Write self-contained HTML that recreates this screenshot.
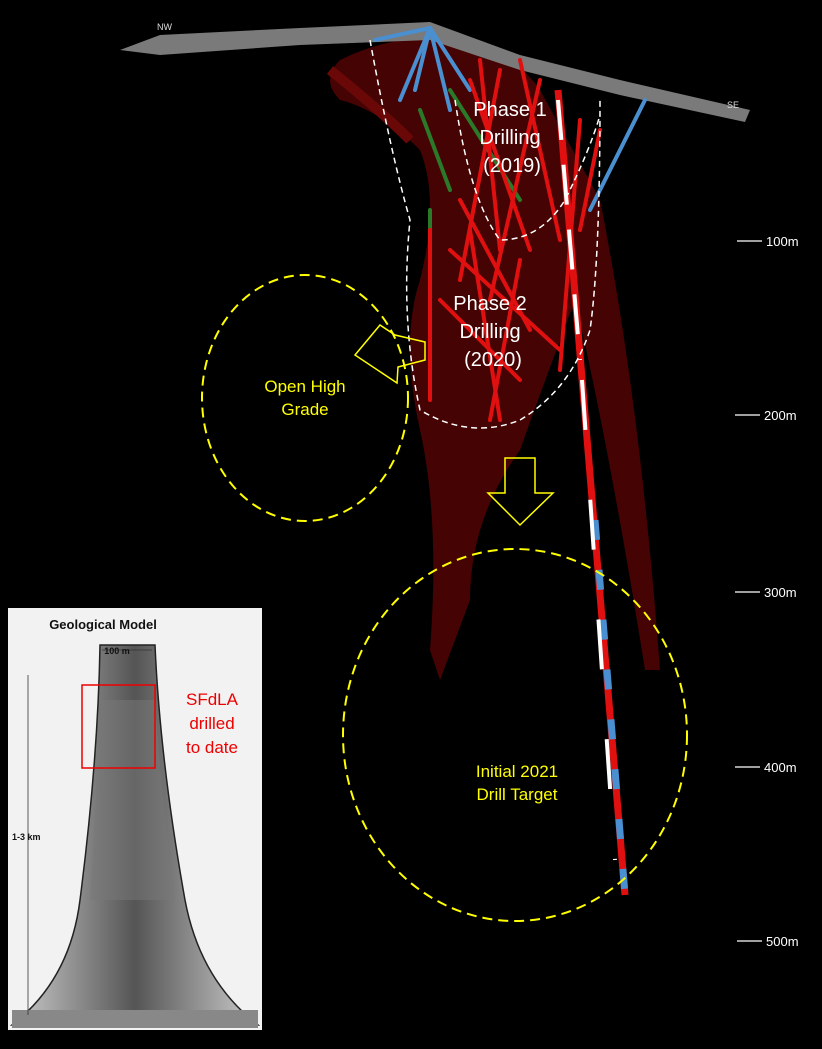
<!DOCTYPE html>
<html><head><meta charset="utf-8"><style>
body{margin:0;background:#000;width:822px;height:1044px;overflow:hidden;font-family:"Liberation Sans",sans-serif}
</style></head><body>
<svg width="822" height="1044" viewBox="0 0 822 1044" xmlns="http://www.w3.org/2000/svg">
<rect width="822" height="1044" fill="#000"/>
<!-- dark red body -->
<g fill="#4a0303" opacity="0.95">
<path d="M340,60 Q400,30 470,40 Q520,60 540,90 L600,200 Q640,400 660,670 L645,670 Q610,450 575,300 Q545,380 520,450 Q470,520 470,600 L440,680 L430,650 Q440,520 420,430 Q400,340 420,280 Q440,200 420,150 Q380,110 340,100 Q320,80 340,60Z"/>
</g>
<path d="M330,70 Q380,110 410,140" stroke="#6a0808" stroke-width="10" fill="none"/>
<!-- surface -->
<path d="M120,50 L160,35 L300,28 L430,22 L520,55 L620,80 L750,110 L745,122 L620,95 L520,70 L430,40 L300,45 L160,55 Z" fill="#7a7a7a"/>
<text x="157" y="30" fill="#ddd" font-size="9">NW</text>
<text x="727" y="108" fill="#ddd" font-size="9">SE</text>
<!-- drill holes -->
<g stroke-width="4" stroke-linecap="round" fill="none">
<path d="M430,28 L400,100" stroke="#4a8fd0"/>
<path d="M430,28 L375,40" stroke="#4a8fd0"/>
<path d="M430,28 L450,110" stroke="#4a8fd0"/>
<path d="M430,28 L470,90" stroke="#4a8fd0"/>
<path d="M430,28 L415,90" stroke="#4a8fd0"/>
<path d="M645,100 L590,210" stroke="#4a8fd0"/>
<path d="M450,90 L520,200" stroke="#2a7a2a"/>
<path d="M420,110 L450,190" stroke="#2a7a2a"/>
<path d="M430,210 L430,300" stroke="#2a7a2a"/>
<path d="M480,60 L500,250" stroke="#e01010"/>
<path d="M470,80 L530,250" stroke="#e01010"/>
<path d="M500,70 L460,280" stroke="#e01010"/>
<path d="M520,60 L560,240" stroke="#e01010"/>
<path d="M540,80 L490,300" stroke="#e01010"/>
<path d="M460,200 L530,330" stroke="#e01010"/>
<path d="M430,230 L430,400" stroke="#e01010"/>
<path d="M470,230 L500,420" stroke="#e01010"/>
<path d="M520,260 L490,420" stroke="#e01010"/>
<path d="M450,250 L560,350" stroke="#e01010"/>
<path d="M440,300 L520,380" stroke="#e01010"/>
<path d="M580,120 L560,370" stroke="#e01010"/>
<path d="M600,130 L580,230" stroke="#e01010"/>
</g>
<!-- main hole -->
<path d="M558,90 L625,895" stroke="#e01010" stroke-width="7"/>
<path d="M595,520 L625,895" stroke="#4a8fd0" stroke-width="7" stroke-dasharray="20,30"/>
<path d="M558,100 L580,360" stroke="#fff" stroke-width="4" stroke-dasharray="40,25"/>
<path d="M582,380 L615,860" stroke="#fff" stroke-width="4" stroke-dasharray="50,70"/>
<!-- white dashed outlines -->
<g stroke="#fff" stroke-width="1.5" stroke-dasharray="6,4" fill="none">
<path d="M370,40 Q390,150 410,220 Q400,320 420,410 Q470,440 520,420 Q570,390 590,330 Q600,260 600,100"/>
<path d="M455,100 Q470,200 500,240 Q540,240 565,200 Q590,150 600,115"/>
</g>
<!-- yellow -->
<g stroke="#ffff00" stroke-width="2" stroke-dasharray="10,6" fill="none">
<ellipse cx="305" cy="398" rx="103" ry="123"/>
<ellipse cx="515" cy="735" rx="172" ry="186"/>
</g>
<path d="M380,325 L355,355 L397,383 L398,367 L425,360 L425,342 L395,335 Z" fill="none" stroke="#ffff00" stroke-width="1.5"/>
<path d="M505,458 L535,458 L535,493 L553,493 L520,525 L488,493 L505,493 Z" fill="none" stroke="#ffff00" stroke-width="1.5"/>
<g fill="#fff" font-size="20" text-anchor="middle">
<text x="510" y="116">Phase 1</text><text x="510" y="144">Drilling</text><text x="512" y="172">(2019)</text>
<text x="490" y="310">Phase 2</text><text x="490" y="338">Drilling</text><text x="493" y="366">(2020)</text>
</g>
<g fill="#ffff00" font-size="17" text-anchor="middle">
<text x="305" y="392">Open High</text><text x="305" y="415">Grade</text>
<text x="517" y="777">Initial 2021</text><text x="517" y="800">Drill Target</text>
</g>
<g stroke="#fff" stroke-width="1.2">
<line x1="737" y1="241" x2="762" y2="241"/><line x1="735" y1="415" x2="760" y2="415"/>
<line x1="735" y1="592" x2="760" y2="592"/><line x1="735" y1="767" x2="760" y2="767"/>
<line x1="737" y1="941" x2="762" y2="941"/>
</g>
<g fill="#fff" font-size="13">
<text x="766" y="246">100m</text><text x="764" y="420">200m</text><text x="764" y="597">300m</text>
<text x="764" y="772">400m</text><text x="766" y="946">500m</text>
</g>
<!-- inset -->
<rect x="8" y="608" width="254" height="422" fill="#f2f2f2"/>
<defs><linearGradient id="g" x1="0" x2="1"><stop offset="0" stop-color="#ccc"/><stop offset="0.5" stop-color="#555"/><stop offset="1" stop-color="#ccc"/></linearGradient></defs>
<path d="M100,645 L155,645 Q160,760 185,900 Q200,980 258,1025 L12,1025 Q70,980 80,900 Q98,760 100,645Z" fill="url(#g)" stroke="#222" stroke-width="1.5"/>
<path d="M100,700 L155,700 Q160,780 175,900 L90,900 Q98,780 100,700Z" fill="#777" opacity="0.5"/>
<rect x="12" y="1010" width="246" height="18" fill="#888"/>
<rect x="82" y="685" width="73" height="83" fill="none" stroke="#e00" stroke-width="1.5"/>
<line x1="28" y1="675" x2="28" y2="1015" stroke="#333" stroke-width="0.8"/>
<line x1="102" y1="650" x2="152" y2="650" stroke="#333" stroke-width="0.8"/>
<text x="103" y="629" font-size="13" font-weight="bold" fill="#111" text-anchor="middle">Geological Model</text>
<text x="117" y="654" font-size="9" font-weight="bold" fill="#111" text-anchor="middle">100 m</text>
<text x="12" y="840" font-size="9" font-weight="bold" fill="#111">1-3 km</text>
<g fill="#e00" font-size="17" text-anchor="middle"><text x="212" y="705">SFdLA</text><text x="212" y="729">drilled</text><text x="212" y="753">to date</text></g>
</svg>
</body></html>
